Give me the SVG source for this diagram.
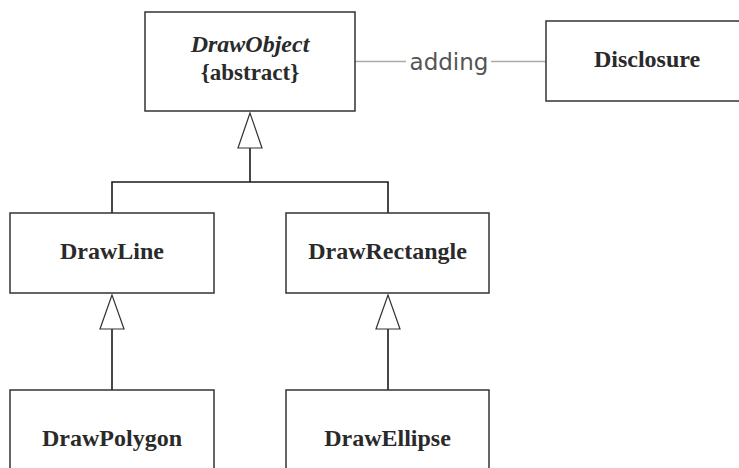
<svg xmlns="http://www.w3.org/2000/svg" width="739" height="468" viewBox="0 0 739 468">
  <defs>
    <style>
      .box { fill: #ffffff; stroke: #333333; stroke-width: 1.5; }
      .name { font-family: "Liberation Serif", "Times New Roman", serif; font-weight: bold; font-size: 24px; fill: #2a2a2a; text-anchor: middle; }
      .edge { fill: none; stroke: #1a1a1a; stroke-width: 1.6; }
      .assoc { fill: none; stroke: #aaaaaa; stroke-width: 1.3; }
      .tri { fill: #ffffff; stroke: #333333; stroke-width: 1.2; }
      .label { font-family: "DejaVu Sans", sans-serif; font-size: 23px; fill: #555555; text-anchor: middle; }
    </style>
  </defs>
  <rect width="739" height="468" fill="#ffffff"/>

  <g id="connectors">
    <!-- association DrawObject - Disclosure -->
    <line class="assoc" x1="355" y1="61.5" x2="406" y2="61.5"/>
    <line class="assoc" x1="491" y1="61.5" x2="546" y2="61.5"/>
    <text class="label" x="449" y="70">adding</text>
    <!-- generalization to DrawObject -->
    <polyline class="edge" points="112,213 112,182 388,182 388,213"/>
    <line class="edge" x1="250" y1="182" x2="250" y2="148"/>
    <polygon class="tri" points="250,113 238,148 262,148"/>
    <!-- DrawPolygon to DrawLine -->
    <line class="edge" x1="112" y1="390" x2="112" y2="329"/>
    <polygon class="tri" points="112,295 100,329 124,329"/>
    <!-- DrawEllipse to DrawRectangle -->
    <line class="edge" x1="388" y1="390" x2="388" y2="329"/>
    <polygon class="tri" points="388,295 376,329 400,329"/>
  </g>

  <g id="DrawObject">
    <rect class="box" x="145" y="12" width="210" height="99"/>
    <text class="name" x="250" y="52" font-style="italic">DrawObject</text>
    <text class="name" x="250" y="80" style="font-size:23px">{abstract}</text>
  </g>

  <g id="Disclosure">
    <rect class="box" x="546" y="21" width="210" height="80"/>
    <text class="name" x="647" y="67">Disclosure</text>
  </g>

  <g id="DrawLine">
    <rect class="box" x="10" y="213" width="204" height="80"/>
    <text class="name" x="112" y="259">DrawLine</text>
  </g>

  <g id="DrawRectangle">
    <rect class="box" x="286" y="213" width="203" height="80"/>
    <text class="name" x="387.5" y="259">DrawRectangle</text>
  </g>

  <g id="DrawPolygon">
    <rect class="box" x="10" y="390" width="204" height="100"/>
    <text class="name" x="112" y="446">DrawPolygon</text>
  </g>

  <g id="DrawEllipse">
    <rect class="box" x="286" y="390" width="203" height="100"/>
    <text class="name" x="387.5" y="446">DrawEllipse</text>
  </g>
</svg>
